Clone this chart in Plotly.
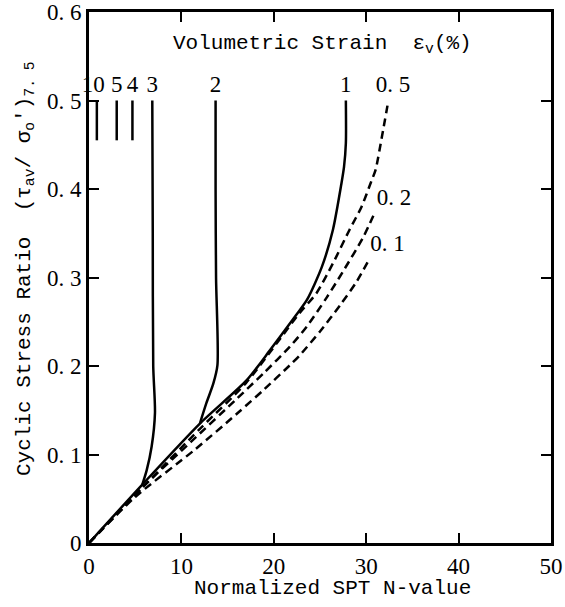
import plotly.graph_objects as go

# Normalized SPT N-value (x) and cyclic stress ratio (y) for each volumetric strain curve
n_1 = [0, 5.77, 12.0, 17.07, 19.6, 22.3, 23.6, 25.2, 26.4, 27.3, 27.6, 27.8, 27.8]
csr_1 = [0, 0.066, 0.135, 0.184, 0.218, 0.256, 0.275, 0.312, 0.354, 0.405, 0.425, 0.452, 0.50]

n_2 = [12.0, 12.7, 13.45, 13.9, 13.75, 13.7, 13.7]
csr_2 = [0.135, 0.158, 0.18, 0.201, 0.30, 0.40, 0.50]

n_3 = [5.77, 6.24, 6.78, 7.14, 6.95, 6.9, 6.85]
csr_3 = [0.066, 0.082, 0.109, 0.147, 0.20, 0.35, 0.50]

n_4 = [4.7, 4.7]
csr_4 = [0.455, 0.50]
n_5 = [3.0, 3.0]
csr_5 = [0.455, 0.50]
n_10 = [0.85, 0.85]
csr_10 = [0.455, 0.50]

n_05 = [0, 6.0, 12.0, 17.0, 22.8, 24.6, 26.4, 28.2, 29.5, 30.6, 31.0, 31.7, 32.4]
csr_05 = [0, 0.065, 0.129, 0.181, 0.26, 0.282, 0.316, 0.354, 0.38, 0.41, 0.421, 0.459, 0.50]

n_02 = [0, 5.0, 11.0, 16.0, 19.0, 21.75, 23.6, 25.7, 27.5, 29.7, 30.95]
csr_02 = [0, 0.055, 0.114, 0.163, 0.193, 0.222, 0.245, 0.277, 0.307, 0.346, 0.374]

n_01 = [0, 5.0, 11.4, 16.0, 19.0, 21.75, 22.8, 25.0, 27.2, 29.0, 30.4]
csr_01 = [0, 0.052, 0.105, 0.146, 0.174, 0.201, 0.212, 0.239, 0.269, 0.296, 0.322]

# curve labels: text, x, y
label_text = ["10", "5", "4", "3", "2", "1", "0. 5", "0. 2", "0. 1"]
label_x = [0.45, 3.0, 4.7, 6.85, 13.7, 27.8, 32.9, 33.0, 32.3]
label_y = [0.516, 0.516, 0.516, 0.516, 0.516, 0.516, 0.516, 0.388, 0.337]

x_ticks = [0, 10, 20, 30, 40, 50]
x_tick_text = ["0", "10", "20", "30", "40", "50"]
y_ticks = [0, 0.1, 0.2, 0.3, 0.4, 0.5, 0.6]
y_tick_text = ["0", "0. 1", "0. 2", "0. 3", "0. 4", "0. 5", "0. 6"]

FONT = "Liberation Mono"
NUMFONT = "Liberation Serif"
fig = go.Figure()

solid = [(n_1, csr_1), (n_2, csr_2), (n_3, csr_3), (n_4, csr_4), (n_5, csr_5), (n_10, csr_10)]
for xs, ys in solid:
    fig.add_trace(go.Scatter(x=xs, y=ys, mode="lines",
                             line=dict(color="black", width=2.5, shape="spline", smoothing=0.7),
                             showlegend=False, hoverinfo="skip"))
for xs, ys in [(n_05, csr_05), (n_02, csr_02), (n_01, csr_01)]:
    fig.add_trace(go.Scatter(x=xs, y=ys, mode="lines",
                             line=dict(color="black", width=2.5, dash="8px,5px", shape="spline", smoothing=0.7),
                             showlegend=False, hoverinfo="skip"))

fig.add_trace(go.Scatter(x=label_x, y=label_y, mode="text", text=label_text, cliponaxis=False,
                         textfont=dict(family=NUMFONT, size=23, color="black"),
                         textposition="middle center", showlegend=False, hoverinfo="skip"))

annotations = [
    dict(text="Volumetric Strain  ε<sub>v</sub>(%)", x=25.3, y=0.563, xref="x", yref="y",
         xanchor="center", yanchor="middle",
         showarrow=False, font=dict(family=FONT, size=21, color="black")),
    dict(text="Normalized SPT N-value", x=0.526, y=-0.085, xref="paper", yref="paper",
         xanchor="center", yanchor="middle",
         showarrow=False, font=dict(family=FONT, size=21, color="black")),
    dict(text="Cyclic Stress Ratio  (τ<sub>av</sub>/ σ<sub>o</sub>')<sub>7. 5</sub>",
         x=-0.1385, y=0.516, xref="paper", yref="paper", textangle=-90,
         xanchor="center", yanchor="middle",
         showarrow=False, font=dict(family=FONT, size=21, color="black")),
]

fig.update_layout(
    width=565, height=607,
    margin=dict(l=89, r=14, t=12, b=64, autoexpand=False),
    paper_bgcolor="white", plot_bgcolor="white",
    annotations=annotations,
    font=dict(family=FONT, size=21, color="black"),
)
fig.update_xaxes(range=[0, 50], tickvals=x_ticks, ticktext=x_tick_text, automargin=False,
                 showgrid=False, zeroline=False, showline=True, linecolor="black", linewidth=3,
                 mirror="ticks", ticks="inside", ticklen=10, tickwidth=2, tickcolor="black",
                 tickfont=dict(family=NUMFONT, size=23, color="black"))
fig.update_yaxes(range=[0, 0.6], tickvals=y_ticks, ticktext=y_tick_text, automargin=False,
                 showgrid=False, zeroline=False, showline=True, linecolor="black", linewidth=3,
                 mirror="ticks", ticks="inside", ticklen=10, tickwidth=2, tickcolor="black",
                 tickfont=dict(family=NUMFONT, size=23, color="black"), ticklabelstandoff=0)

# remove the default page margin so the figure fills the 565x607 window exactly
fig.write_html("out.html", config={"displayModeBar": False},
               post_script="document.body.style.margin='0px';document.body.style.overflow='hidden';")
